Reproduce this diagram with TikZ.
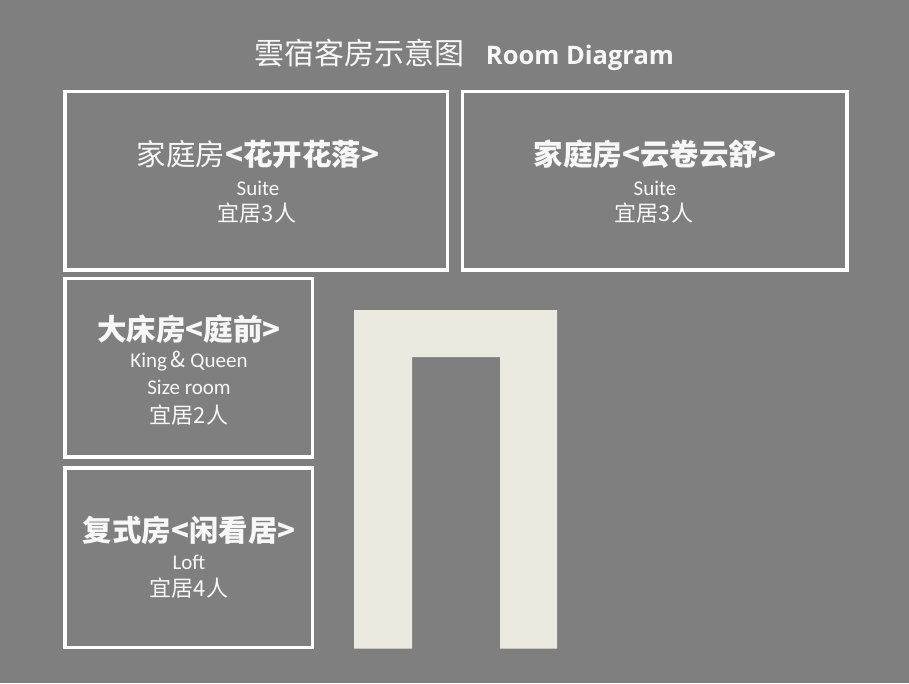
\documentclass[tikz,border=0pt]{standalone}
\usepackage{fontspec}
\newfontfamily\cjk{Noto Sans CJK SC}
\newfontfamily\lat{Carlito}
\newfontfamily\ttl{Open Sans}
\definecolor{bggray}{HTML}{7F7F7F}
\definecolor{archfill}{HTML}{ECEAE0}
\definecolor{txt}{HTML}{F7F7F7}
\tikzset{
  roombox/.style={draw=white, line width=3.5pt, rectangle, inner sep=0pt},
  lbl/.style={text=txt, anchor=base, inner sep=0pt},
  headline/.style={lbl, font=\cjk\fontsize{29.5}{30}\selectfont},
  subline/.style={lbl, font=\lat\fontsize{21}{22}\selectfont},
  capline/.style={lbl, font=\cjk\fontsize{22}{24}\selectfont},
}
\begin{document}
\begin{tikzpicture}[x=1pt, y=-1pt]
\fill[bggray] (0,0) rectangle (909,683);
\useasboundingbox (0,0) rectangle (909,683);

% title
\node[lbl] (title) at (464.5,64) {{\cjk\fontsize{30}{31}\selectfont 雲宿客房示意图}\hspace{21pt}{\ttl\bfseries\fontsize{25.5}{28}\selectfont Room Diagram}};

% room boxes
\node[roombox, minimum width=382.5pt, minimum height=178.5pt] (b1) at (256.25,180.75) {};
\node[roombox, minimum width=384.5pt, minimum height=178.5pt] (b2) at (654.75,180.75) {};
\node[roombox, minimum width=247.5pt, minimum height=178.5pt] (b3) at (188.75,367.75) {};
\node[roombox, minimum width=247.5pt, minimum height=179.5pt] (b4) at (188.75,557.75) {};

% box 1
\node[headline] (h1) at (258,165) {家庭房\bfseries<花开花落>};
\node[subline] (s1) at (258,195) {Suite};
\node[capline] (c1) at (257,221) {宜居3人};

% box 2
\node[headline] (h2) at (655,165) {\bfseries 家庭房<云卷云舒>};
\node[subline] (s2) at (655,195) {Suite};
\node[capline] (c2) at (654,221) {宜居3人};

% box 3
\node[headline] (h3) at (189,340) {\bfseries 大床房<庭前>};
\node[subline] (s3) at (189,367) {King{\cjk\fontsize{22}{22}\selectfont\,\&}\ Queen};
\node[subline] (s3b) at (189,394) {Size room};
\node[capline] (c3) at (189,423) {宜居2人};

% box 4
\node[headline] (h4) at (189,541) {\bfseries 复式房<闲看居>};
\node[subline] (s4) at (189,569) {Loft};
\node[capline] (c4) at (189,596) {宜居4人};

% arch
\fill[archfill] (354,648.5) -- (354,310) -- (557,310) -- (557,648.5) -- (500,648.5) -- (500,357) -- (412,357) -- (412,648.5) -- cycle;
\end{tikzpicture}
\end{document}
